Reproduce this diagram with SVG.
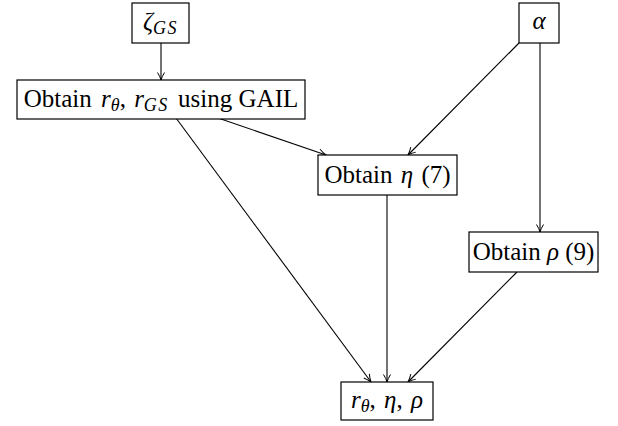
<svg xmlns="http://www.w3.org/2000/svg" width="618" height="426" viewBox="0 0 618 426">
  <style>
    .box { fill: #fff; stroke: #000; stroke-width: 1.2; }
    .lbl { font-family: "Liberation Serif", "Times New Roman", serif; font-size: 25px; fill: #000; text-anchor: middle; }
    .m { font-style: italic; }
    .sub { font-size: 18px; font-style: italic; }
    .edge { stroke: #000; stroke-width: 1.1; fill: none; marker-end: url(#arr); }
  </style>
  <defs>
    <marker id="arr" viewBox="0 0 10 10" refX="9.5" refY="5" markerWidth="10" markerHeight="10" markerUnits="userSpaceOnUse" orient="auto">
      <path d="M2,1.5 Q6,4 9.5,5 Q6,6 2,8.5" fill="none" stroke="#000" stroke-width="1"/>
    </marker>
  </defs>

  <g id="edges">
    <line class="edge" x1="161" y1="43" x2="161" y2="80"/>
    <line class="edge" x1="218" y1="118" x2="326" y2="155"/>
    <line class="edge" x1="519" y1="43" x2="408" y2="155"/>
    <line class="edge" x1="540" y1="43" x2="540" y2="232"/>
    <line class="edge" x1="176" y1="118" x2="371" y2="382"/>
    <line class="edge" x1="387" y1="195" x2="387" y2="382"/>
    <line class="edge" x1="517" y1="272" x2="408" y2="382"/>
  </g>

  <g id="zeta">
    <rect class="box" x="132" y="3" width="57" height="40"/>
    <text class="lbl" x="160.5" y="30"><tspan class="m">ζ</tspan><tspan class="sub" dy="4" letter-spacing="1.5">GS</tspan></text>
  </g>

  <g id="gail">
    <rect class="box" x="17" y="80" width="288" height="39"/>
    <text class="lbl" x="161" y="107">Obtain <tspan class="m" dx="3">r</tspan><tspan class="sub" dy="4">θ</tspan><tspan dy="-4">, </tspan><tspan class="m" dx="2">r</tspan><tspan class="sub" dy="4" letter-spacing="1.5">GS</tspan><tspan dy="-4" dx="3"> using GAIL</tspan></text>
  </g>

  <g id="alpha">
    <rect class="box" x="519" y="3" width="40" height="40"/>
    <text class="lbl" x="539" y="29"><tspan class="m">α</tspan></text>
  </g>

  <g id="eta">
    <rect class="box" x="318" y="155" width="139" height="40"/>
    <text class="lbl" x="387.5" y="183">Obtain <tspan class="m" dx="2">η</tspan><tspan dx="2"> (7)</tspan></text>
  </g>

  <g id="rho">
    <rect class="box" x="469" y="232" width="129" height="40"/>
    <text class="lbl" x="533.5" y="260">Obtain <tspan class="m">ρ</tspan> (9)</text>
  </g>

  <g id="result">
    <rect class="box" x="341" y="382" width="92" height="38"/>
    <text class="lbl" x="387" y="408"><tspan class="m">r</tspan><tspan class="sub" dy="4">θ</tspan><tspan dy="-4">, </tspan><tspan class="m" dx="2">η</tspan><tspan>, </tspan><tspan class="m" dx="2">ρ</tspan></text>
  </g>
</svg>
